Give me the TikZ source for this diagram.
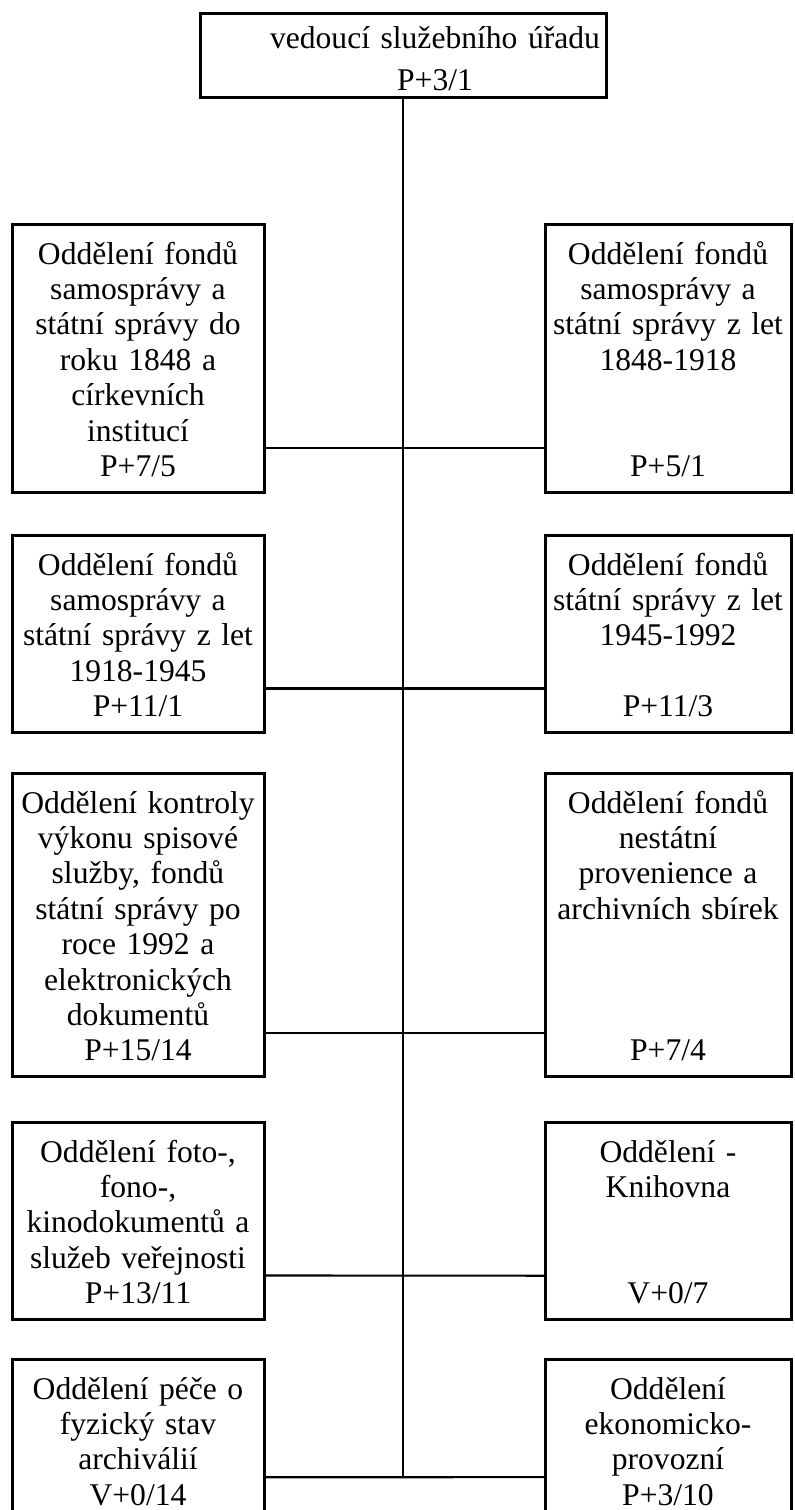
\documentclass[tikz,border=0pt]{standalone}
\usepackage{fontspec}
\setmainfont{Liberation Serif}
\newcommand{\ls}{\rule{0pt}{18.3pt}}
\newcommand{\hs}{\rule{0pt}{21pt}}
\newcommand{\sh}[1]{\makebox[295.5pt]{\hspace*{48pt}#1}}

\begin{document}
\begin{tikzpicture}[x=0.75pt,y=-0.75pt]
\tikzstyle{every node}+=[font=\fontsize{23.7}{26.55}\selectfont, outer sep=0pt]
\tikzstyle{unit}=[draw, line width=2.25pt, align=center, anchor=north west, inner xsep=4.5pt, inner ysep=11.7pt]
\tikzstyle{lbox}=[unit, text width=180pt]
\tikzstyle{rbox}=[unit, text width=175.5pt]
\tikzstyle{link}=[line width=1.6pt]
\useasboundingbox (0,0) rectangle (795,1510);
\node [unit, text width=295.5pt, inner ysep=5.25pt, font=\fontsize{23.7}{31.5}\selectfont] (head) at (200,13.5) {\hs\sh{vedoucí služebního úřadu}\\\sh{P+3/1}};
\node [lbox] (l1) at (12,224) {\ls Oddělení fondů\\samosprávy a\\státní správy do\\roku 1848 a\\církevních\\institucí\\P+7/5};
\node [rbox] (r1) at (545,224) {\ls Oddělení fondů\\samosprávy a\\státní správy z let\\1848-1918\\\ls\\\ls\\P+5/1};
\node [lbox] (l2) at (12,535) {\ls Oddělení fondů\\samosprávy a\\státní správy z let\\1918-1945\\P+11/1};
\node [rbox] (r2) at (545,535) {\ls Oddělení fondů\\státní správy z let\\1945-1992\\\ls\\P+11/3};
\node [lbox] (l3) at (12,773) {\ls Oddělení kontroly\\výkonu spisové\\služby, fondů\\státní správy po\\roce 1992 a\\elektronických\\dokumentů\\P+15/14};
\node [rbox] (r3) at (545,773) {\ls Oddělení fondů\\nestátní\\provenience a\\archivních sbírek\\\ls\\\ls\\\ls\\P+7/4};
\node [lbox] (l4) at (12,1122) {\ls Oddělení foto-,\\fono-,\\kinodokumentů a\\služeb veřejnosti\\P+13/11};
\node [rbox] (r4) at (545,1122) {\ls Oddělení -\\Knihovna\\\ls\\\ls\\V+0/7};
\node [lbox] (l5) at (12,1359) {\ls Oddělení péče o\\fyzický stav\\archiválií\\V+0/14};
\node [rbox] (r5) at (545,1359) {\ls Oddělení\\ekonomicko-\\provozní\\P+3/10};
\foreach \r in {1,...,5}
  \draw [link] ([yshift=33pt]l\r.south east) coordinate (j\r) -- ([yshift=33pt]r\r.south west);
\draw [link] (head.south) -- (head.south |- j5);
\end{tikzpicture}
\end{document}
